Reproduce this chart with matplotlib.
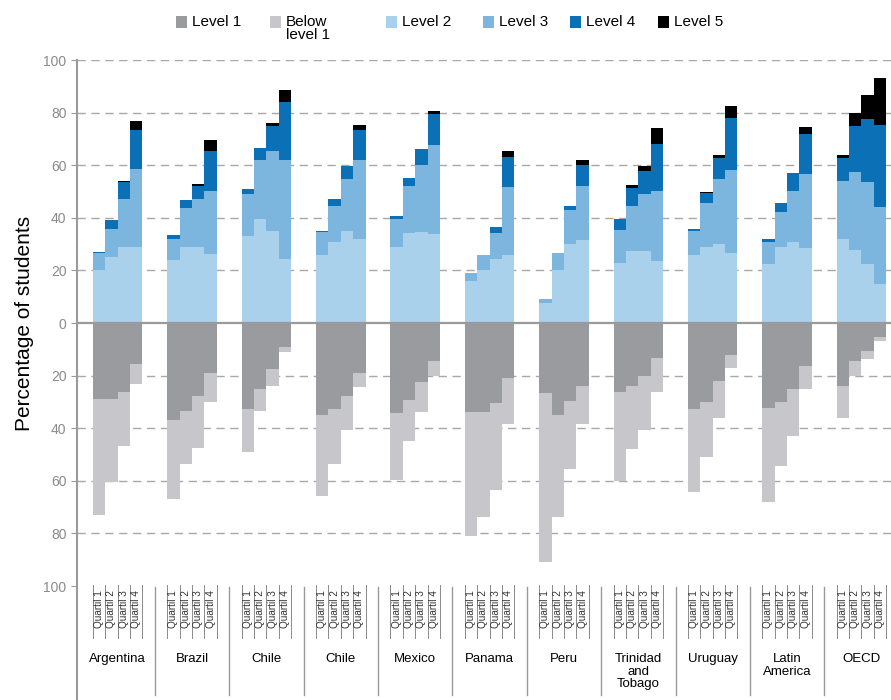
import matplotlib
matplotlib.use("Agg")
import matplotlib.pyplot as plt
from matplotlib.patches import Rectangle
import numpy as np

plt.rcParams['font.family'] = ['Liberation Sans', 'DejaVu Sans']

countries = ['Argentina', 'Brazil', 'Chile', 'Chile', 'Mexico', 'Panama', 'Peru',
             'Trinidad\nand\nTobago', 'Uruguay', 'Latin\nAmerica', 'OECD']
quartiles = ['Quartil 1', 'Quartil 2', 'Quartil 3', 'Quartil 4']

# above zero (per country, quartile 1..4)
level2 = [20, 25, 29, 29,   24, 29, 29, 26.2,   33, 39.5, 35, 24.3,   26, 31, 35, 32,
          29, 34.3, 34.7, 34,   16, 20, 24.3, 26,   7.7, 20, 30, 31.5,   22.7, 27.5, 27.5, 23.7,
          26, 29, 30, 26.5,   22.4, 28.8, 30.7, 28.4,   31.8, 27.8, 22.4, 14.7]
level3 = [6.5, 10.7, 18, 29.4,   8, 14.6, 18, 24,   16, 22.5, 30.4, 37.7,   8.5, 13.6, 19.8, 30,
          10.5, 17.9, 25.3, 33.7,   3, 6, 10, 25.8,   1.3, 6.5, 13, 20.5,   12.7, 17.1, 21.5, 26.5,
          9, 16.5, 24.8, 31.7,   8.6, 13.5, 19.5, 28.1,   22.2, 29.7, 31.3, 29.5]
level4 = [0.5, 3.3, 6.5, 15,   1.5, 3, 5.2, 15.2,   2, 4.7, 9.6, 22,   0.5, 2.4, 4.9, 11.4,
          1.3, 3.1, 6, 11.8,   0, 0, 2.1, 11.4,   0, 0.3, 1.6, 8,   4.1, 6.8, 8.8, 17.8,
          0.7, 3.8, 7.8, 19.6,   0.8, 3.2, 6.8, 15.4,   8.6, 17.5, 23.9, 31.1]
level5 = [0, 0, 0.5, 3.6,   0, 0, 0.8, 4.2,   0, 0, 1, 4.6,   0, 0, 0, 1.9,
          0, 0, 0, 1.2,   0, 0, 0, 2.3,   0, 0, 0, 2,   0, 1.1, 1.9, 6.3,
          0, 0.7, 1.3, 4.7,   0, 0, 0, 2.7,   1.3, 4.7, 9.1, 17.7]
# below zero
level1 = [28.9, 28.9, 26.3, 15.7,   36.9, 33.5, 27.6, 19,   32.8, 25, 17.5, 9,   35, 32.7, 27.6, 18.8,
          34.3, 29.3, 22.6, 14.5,   34, 33.7, 30.5, 20.7,   26.5, 35, 29.7, 24,   26.1, 24, 20.1, 13.4,
          32.8, 29.9, 22, 12.2,   32.2, 29.9, 25.2, 16.3,   24, 14.5, 10.5, 5.2]
below1 = [44.1, 31.7, 20.3, 7.5,   29.8, 20.2, 19.8, 11,   16.4, 8.3, 6.3, 2,   30.7, 20.7, 13.1, 5.7,
          25.4, 15.4, 11.1, 5.7,   47, 40.2, 32.9, 17.8,   64.5, 38.6, 25.6, 14.5,   33.9, 23.9, 20.6, 12.7,
          31.6, 20.9, 14, 5,   35.7, 24.3, 17.8, 8.7,   12, 5.7, 3.3, 1.5]

c_l1 = '#9a9b9e'
c_b1 = '#c7c7cb'
c_l2 = '#a9d1ec'
c_l3 = '#7cb6df'
c_l4 = '#0b70b5'
c_l5 = '#000000'

fig = plt.figure(figsize=(8.91, 7.0), dpi=100)
ax = fig.add_axes([77 / 891, 0, 814 / 891, 640 / 700])

ng = len(countries)
x = np.array([g * 6 + q for g in range(ng) for q in range(4)], dtype=float)

l2 = np.array(level2); l3 = np.array(level3); l4 = np.array(level4); l5 = np.array(level5)
n1 = np.array(level1); nb = np.array(below1)

kw = dict(width=1.0, align='edge', linewidth=0, zorder=2)
ax.bar(x, l2, color=c_l2, **kw)
ax.bar(x, l3, bottom=l2, color=c_l3, **kw)
ax.bar(x, l4, bottom=l2 + l3, color=c_l4, **kw)
ax.bar(x, l5, bottom=l2 + l3 + l4, color=c_l5, **kw)
ax.bar(x, -n1, color=c_l1, **kw)
ax.bar(x, -nb, bottom=-n1, color=c_b1, **kw)

ax.set_xlim(-1.27, 64.38)
ax.set_ylim(-143.3, 100)

# grid
for v in [100, 80, 60, 40, 20, -20, -40, -60, -80]:
    ax.axhline(v, color='#a8a8a8', lw=1.0, ls=(0, (6, 4)), zorder=0)
ax.axhline(0, color='#9a9a9a', lw=1.6, zorder=3)

ticks = [100, 80, 60, 40, 20, 0, -20, -40, -60, -80, -100]
ax.set_yticks(ticks)
ax.set_yticklabels([str(abs(t)) for t in ticks], color='#8a8a8a', fontsize=10)
ax.tick_params(axis='y', length=4, color='#9a9a9a', direction='out')
ax.set_xticks([])
for s in ['top', 'right', 'bottom']:
    ax.spines[s].set_visible(False)
ax.spines['left'].set_color('#9a9a9a')
ax.spines['left'].set_linewidth(1.5)

# category axis labels
for g in range(ng):
    x0 = g * 6
    for k in range(5):
        ax.plot([x0 + k, x0 + k], [-99.6, -119.8], color='#8a8a8a', lw=0.7, clip_on=False)
    for q in range(4):
        ax.text(x0 + q + 0.5, -101.5, quartiles[q], rotation=90, ha='center', va='top',
                fontsize=7.2, color='#333333')
    ax.text(x0 + 2, -125.5, countries[g], ha='center', va='top', fontsize=9.5,
            linespacing=1.05)
    if g > 0:
        ax.plot([x0 - 1, x0 - 1], [-100.5, -141.5], color='#9a9a9a', lw=1.0, clip_on=False)

fig.text(25 / 891, 1 - 323 / 700, 'Percentage of students', rotation=90,
         ha='center', va='center', fontsize=15)

# legend
leg = [('Level 1', c_l1, 176), ('Below\nlevel 1', c_b1, 270), ('Level 2', c_l2, 386),
       ('Level 3', c_l3, 483), ('Level 4', c_l4, 570), ('Level 5', c_l5, 658)]
for lab, col, px in leg:
    fig.patches.append(Rectangle((px / 891, 1 - 28 / 700), 11 / 891, 12 / 700,
                                 transform=fig.transFigure, color=col, lw=0))
    fig.text((px + 16) / 891, 1 - 15 / 700, lab, ha='left', va='top', fontsize=11,
             linespacing=0.95)

fig.savefig('out.png', dpi=100)
